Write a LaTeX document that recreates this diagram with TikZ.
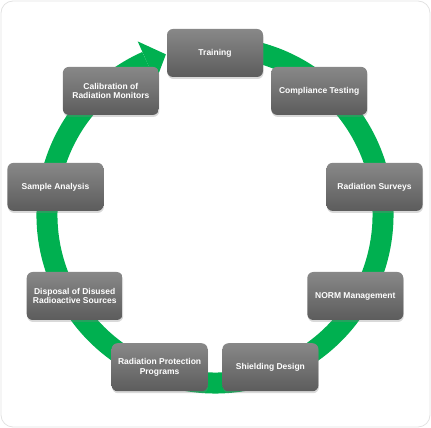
\documentclass[tikz,border=0pt]{standalone}
\usepackage{fontspec}
\newfontfamily\boxfont{Liberation Sans}
\usetikzlibrary{calc, shadows}
\definecolor{ringgreen}{RGB}{0,176,80}
\definecolor{boxtop}{RGB}{136,136,136}
\definecolor{boxbottom}{RGB}{92,92,92}
\definecolor{framegray}{RGB}{226,226,226}

\begin{document}
\begin{tikzpicture}[
        x=1pt, y=1pt,
        stage/.style={rectangle, rounded corners=6pt, minimum width=96pt, minimum height=48pt,
            top color=boxtop, bottom color=boxbottom, text=white, align=center,
            font=\boxfont\bfseries\fontsize{8.5}{9.5}\selectfont,
            drop shadow={shadow xshift=0.5pt, shadow yshift=-2pt, opacity=0.3}},
        ring/.style={draw=ringgreen, line width=21pt},
        frame/.style={draw=framegray, line width=0.8pt, rounded corners=12pt}
    ]
        \useasboundingbox (0,0) rectangle (431,428);
        \draw[frame] (1,1) rectangle (430,427);
        \coordinate (c) at (215,213);
        % green cycle arrow behind the boxes
        \draw[ring] ([shift={(78:168)}]c) arc[start angle=78, end angle=-246, radius=168];
        \fill[ringgreen] ([shift={(114:190)}]c) -- ([shift={(107:168)}]c) -- ([shift={(114:146)}]c) -- cycle;
        \node[stage] (training) at ($(c)+(90:162)$) {Training};
        \node[stage] (compliance) at ($(c)+(50:162)$) {Compliance Testing};
        \node[stage] (surveys) at ($(c)+(10:162)$) {Radiation Surveys};
        \node[stage] (norm) at ($(c)+(-30:162)$) {NORM Management};
        \node[stage] (shielding) at ($(c)+(-70:162)$) {Shielding Design};
        \node[stage] (programs) at ($(c)+(-110:162)$) {Radiation Protection\\Programs};
        \node[stage] (disposal) at ($(c)+(-150:162)$) {Disposal of Disused\\Radioactive Sources};
        \node[stage] (sample) at ($(c)+(170:162)$) {Sample Analysis};
        \node[stage] (calibration) at ($(c)+(130:162)$) {Calibration of\\Radiation Monitors};
    \end{tikzpicture}
\end{document}
